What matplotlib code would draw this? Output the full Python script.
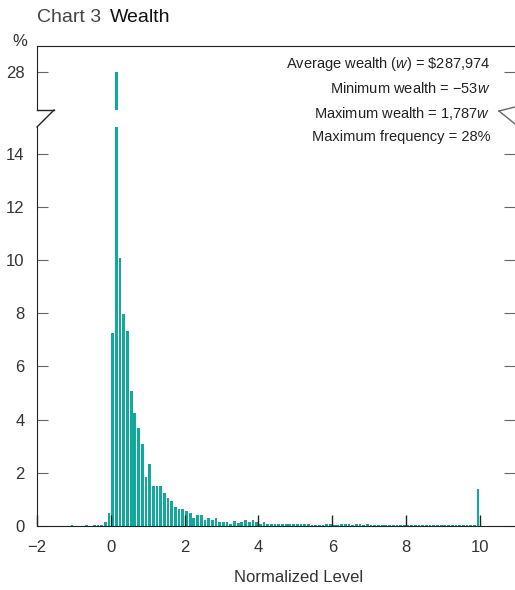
import numpy as np
import matplotlib.pyplot as plt
from matplotlib.lines import Line2D

plt.rcParams['font.family'] = ['Liberation Sans', 'DejaVu Sans']
plt.rcParams['mathtext.fontset'] = 'custom'
plt.rcParams['mathtext.rm'] = 'Liberation Sans'
plt.rcParams['mathtext.it'] = 'Liberation Sans:italic'

# histogram of normalized wealth, 0.1 wide bins (bin centres), % of households
neg_centers = [-1.05, -0.65, -0.45, -0.35, -0.25, -0.15, -0.05]
neg_values = [0.03, 0.03, 0.03, 0.03, 0.03, 0.15, 0.48]

pos_values = [7.24, 28.0, 10.06, 7.96, 7.33, 5.06, 4.26, 3.70, 3.07, 1.85,
              2.33, 1.52, 1.52, 1.52, 1.23, 1.04, 0.94, 0.71, 0.63, 0.63,
              0.55, 0.48, 0.31, 0.40, 0.40, 0.24, 0.31, 0.21, 0.31, 0.15,
              0.15, 0.15, 0.06, 0.19, 0.11, 0.15, 0.21, 0.15, 0.21, 0.16,
              0.06, 0.15, 0.07, 0.07, 0.07, 0.07, 0.07, 0.07, 0.07, 0.07,
              0.07, 0.07, 0.07, 0.07, 0.03, 0.03, 0.03, 0.03, 0.07, 0.07,
              0.03, 0.03, 0.07, 0.07, 0.07, 0.03, 0.07, 0.07, 0.03, 0.07,
              0.03, 0.02, 0.02, 0.02, 0.02, 0.02, 0.02, 0.02, 0.02, 0.02,
              0.02, 0.02, 0.02, 0.02, 0.02, 0.02, 0.02, 0.02, 0.02, 0.02,
              0.02, 0.02, 0.02, 0.02, 0.02, 0.02, 0.02, 0.02, 0.02, 1.40]
pos_centers = [round(0.05 + 0.1 * i, 2) for i in range(len(pos_values))]

centers = neg_centers + pos_centers
values = neg_values + pos_values

notes = ["Average wealth ($\\mathit{w}$) = \\$287,974",
         "Minimum wealth = \u221253$\\mathit{w}$",
         "Maximum wealth = 1,787$\\mathit{w}$",
         "Maximum frequency = 28%"]

teal = '#10a99b'
W, H = 515, 590

fig = plt.figure(figsize=(W / 100, H / 100), dpi=100)
ax = fig.add_axes([37 / W, 64 / H, 478 / W, 399 / H])
ax2 = fig.add_axes([37 / W, 480 / H, 478 / W, 64 / H])

for a in (ax, ax2):
    a.bar(centers, values, width=0.075, color=teal, linewidth=0)
    a.set_xlim(-2, 10.95)
    a.spines['right'].set_visible(False)
    a.spines['left'].set_color('#222')
    a.tick_params(axis='y', which='both', direction='in', length=8, color='#666',
                  labelsize=12, labelcolor='#333', pad=9, right=True)

ax.set_ylim(0, 15.0)
ax.set_yticks(range(0, 15, 2))
ax.spines['top'].set_visible(False)
ax.spines['bottom'].set_color('#222')
ax.set_xticks(range(-2, 11, 2))
ax.tick_params(axis='x', direction='in', length=8, color='#222', width=1,
               labelsize=12, labelcolor='#333', pad=10)

ax2.set_ylim(26.57, 28.98)
ax2.set_yticks([28])
ax2.spines['bottom'].set_visible(False)
ax2.spines['top'].set_color('#222')
ax2.set_xticks([])


def px(x, y):
    return x / W, 1 - y / H


# axis break marks
for (x0, y0), (x1, y1), c in [((37, 110), (54, 110), '#222'), ((37, 127), (54, 110), '#222'),
                              ((499, 111), (515, 107), '#666'), ((499, 111), (515, 124), '#666')]:
    p0, p1 = px(x0, y0), px(x1, y1)
    fig.add_artist(Line2D([p0[0], p1[0]], [p0[1], p1[1]], color=c, lw=1))

for i, s in enumerate(notes):
    fig.text(*px(490, 64 + 24.5 * i), s, ha='right', va='center', fontsize=10.5, color='#222')

t1 = fig.text(*px(37, 18), "Chart 3", ha='left', va='center', fontsize=14, color='#444')
ax.annotate("Wealth", xy=(1, 0.5), xycoords=t1, xytext=(6, 0), textcoords='offset points',
            ha='left', va='center', fontsize=14, color='#111', annotation_clip=False)
fig.text(*px(12, 42), "%", ha='left', va='center', fontsize=12, color='#333')
fig.text(*px(299, 578), "Normalized Level", ha='center', va='center', fontsize=12, color='#333')

fig.savefig("out.png", dpi=100)
